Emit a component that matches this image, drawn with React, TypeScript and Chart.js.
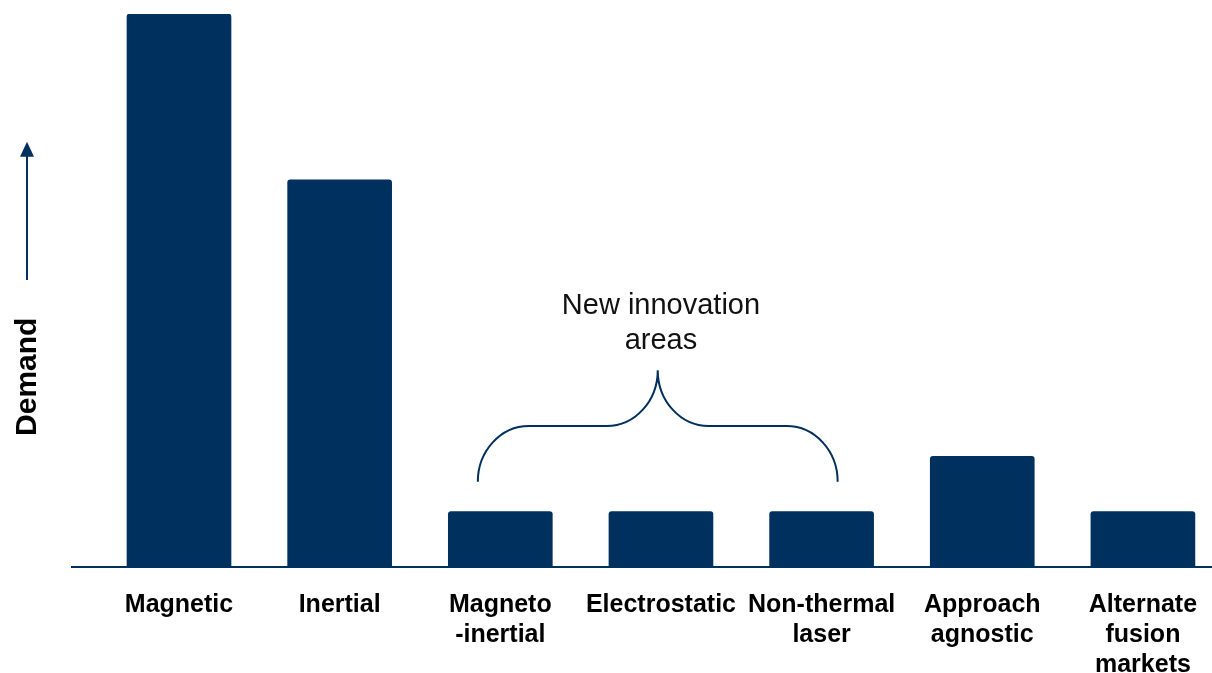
import { useEffect, useRef } from "react";
import { Chart, registerables } from "chart.js";

Chart.register(...registerables);

const categories: string[][] = [
  ["Magnetic"],
  ["Inertial"],
  ["Magneto", "-inertial"],
  ["Electrostatic"],
  ["Non-thermal", "laser"],
  ["Approach", "agnostic"],
  ["Alternate", "fusion", "markets"],
];
const demandValues = [10, 7, 1, 1, 1, 2, 1];
const yAxisLabel = "Demand";
const annotationLines = ["New innovation", "areas"];

// annotation placement (in category-index / value units)
const BRACE_FROM = 1.86;
const BRACE_TO = 4.1;
const BRACE_BASE = 1.54;
const BRACE_SHOULDER = 2.55;
const BRACE_TIP = 3.56;
const ANNOTATION_Y = [4.72, 4.09];
const ARROW_FROM = 5.19;
const ARROW_TO = 7.69;
const Y_LABEL_AT = 3.44;

const NAVY = "#00305E";
const FONT = '"Liberation Sans", Arial, sans-serif';

const overlay = {
  id: "overlay",
  afterDraw(chart: any) {
    const { ctx, scales } = chart;
    const x = scales.x;
    const y = scales.y;
    ctx.save();
    // curly brace
    const x0 = x.getPixelForValue(BRACE_FROM);
    const x1 = x.getPixelForValue(BRACE_TO);
    const xm = (x0 + x1) / 2;
    const yb = y.getPixelForValue(BRACE_BASE);
    const ys = y.getPixelForValue(BRACE_SHOULDER);
    const yt = y.getPixelForValue(BRACE_TIP);
    const r = 51;
    const k = 0.5523;
    const h1 = yb - ys;
    const h2 = ys - yt;
    ctx.beginPath();
    ctx.moveTo(x0, yb);
    ctx.bezierCurveTo(x0, yb - h1 * k, x0 + r - r * k, ys, x0 + r, ys);
    ctx.lineTo(xm - r, ys);
    ctx.bezierCurveTo(xm - r + r * k, ys, xm, yt + h2 * k, xm, yt);
    ctx.bezierCurveTo(xm, yt + h2 * k, xm + r - r * k, ys, xm + r, ys);
    ctx.lineTo(x1 - r, ys);
    ctx.bezierCurveTo(x1 - r + r * k, ys, x1, yb - h1 * k, x1, yb);
    ctx.strokeStyle = NAVY;
    ctx.lineWidth = 2;
    ctx.stroke();

    // annotation text
    ctx.fillStyle = "#111";
    ctx.font = `29px ${FONT}`;
    ctx.textAlign = "center";
    ctx.textBaseline = "middle";
    const tx = x.getPixelForValue(3);
    annotationLines.forEach((t, i) => {
      ctx.fillText(t, tx, y.getPixelForValue(ANNOTATION_Y[i]));
    });

    // y-axis arrow
    const ax = chart.chartArea.left - 45;
    const ay0 = y.getPixelForValue(ARROW_FROM);
    const ay1 = y.getPixelForValue(ARROW_TO);
    ctx.beginPath();
    ctx.moveTo(ax, ay0);
    ctx.lineTo(ax, ay1 + 12);
    ctx.strokeStyle = NAVY;
    ctx.lineWidth = 2;
    ctx.stroke();
    ctx.beginPath();
    ctx.moveTo(ax, ay1);
    ctx.lineTo(ax - 7, ay1 + 15);
    ctx.lineTo(ax + 7, ay1 + 15);
    ctx.closePath();
    ctx.fillStyle = NAVY;
    ctx.fill();

    // y-axis label
    ctx.translate(ax + 1, y.getPixelForValue(Y_LABEL_AT));
    ctx.rotate(-Math.PI / 2);
    ctx.fillStyle = "#000";
    ctx.font = `bold 30px ${FONT}`;
    ctx.textAlign = "center";
    ctx.textBaseline = "middle";
    ctx.fillText(yAxisLabel, 0, 0);
    ctx.restore();
  },
};

export default function App() {
  const ref = useRef<HTMLCanvasElement | null>(null);
  useEffect(() => {
    document.body.style.margin = "0";
    const canvas = ref.current;
    if (!canvas) return;
    const chart = new Chart(canvas, {
      type: "bar",
      data: {
        datasets: [
          {
            data: demandValues.map((v, i) => ({ x: i, y: v })),
            backgroundColor: NAVY,
            borderRadius: 3,
            borderSkipped: "start",
            barThickness: 104,
          },
        ],
      },
      options: {
        animation: false,
        responsive: true,
        maintainAspectRatio: false,
        layout: { padding: { left: 72, right: 0, top: 14, bottom: 0 } },
        plugins: { legend: { display: false }, tooltip: { enabled: false } },
        scales: {
          x: {
            type: "linear",
            min: -0.666,
            max: 6.43,
            offset: false,
            z: 1,
            grid: { display: false, drawTicks: false, offset: false },
            border: { display: true, color: NAVY, width: 2 },
            afterFit: (scale: any) => {
              scale.height = 106;
              scale.paddingLeft = 0;
              scale.paddingRight = 0;
            },
            ticks: {
              stepSize: 1,
              includeBounds: false,
              autoSkip: false,
              maxRotation: 0,
              minRotation: 0,
              padding: 23,
              color: "#000",
              font: { family: FONT, size: 25, weight: "bold", lineHeight: 1.2 },
              callback: (value: any) => {
                const c = categories[value as number];
                return Number.isInteger(value) && c ? c : "";
              },
            },
          },
          y: {
            display: false,
            min: 0,
            max: 10,
          },
        },
      },
      plugins: [overlay],
    } as any);
    return () => chart.destroy();
  }, []);
  return (
    <div style={{ width: 1212, height: 673, position: "relative" }}>
      <canvas ref={ref} />
    </div>
  );
}
